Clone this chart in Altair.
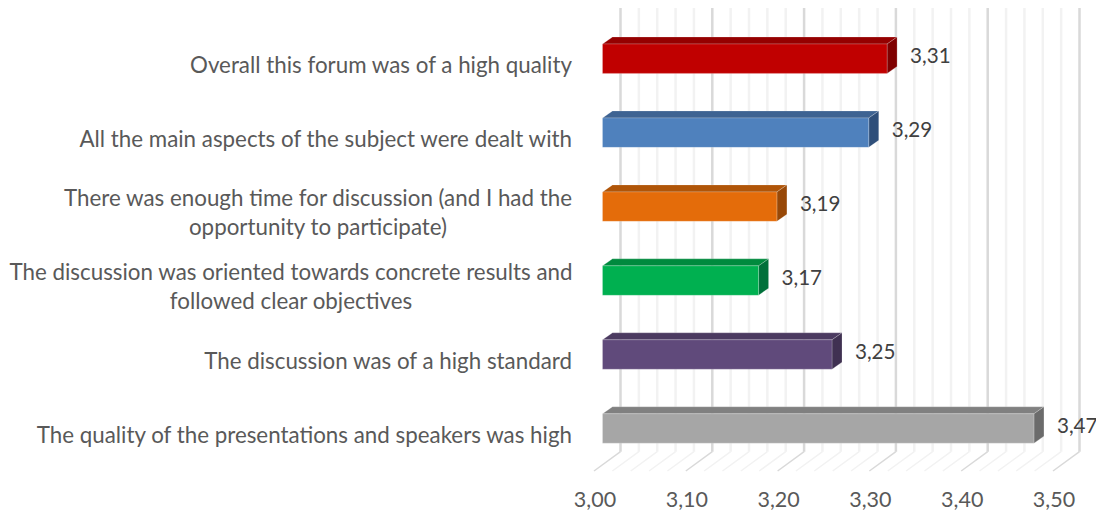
import altair as alt
import pandas as pd

# ---- data ----
label_lines = [
    ["Overall this forum was of a high quality"],
    ["All the main aspects of the subject were dealt with"],
    ["There was enough time for discussion (and I had the", "opportunity to participate)"],
    ["The discussion was oriented towards concrete results and", "followed clear objectives"],
    ["The discussion was of a high standard"],
    ["The quality of the presentations and speakers was high"],
]
values = [3.31, 3.29, 3.19, 3.17, 3.25, 3.47]
front_colors = ["#C00000", "#4F81BD", "#E46C0A", "#00B050", "#604A7B", "#A6A6A6"]
top_colors = ["#950000", "#3E6392", "#B05508", "#008A3E", "#4B3A60", "#808080"]
side_colors = ["#7F0000", "#2F4F7A", "#984807", "#00703A", "#403152", "#6B6B6B"]
major_ticks = [3.0, 3.1, 3.2, 3.3, 3.4, 3.5]
minor_ticks = [3.02, 3.04, 3.06, 3.08, 3.12, 3.14, 3.16, 3.18, 3.22, 3.24, 3.26, 3.28,
               3.32, 3.34, 3.36, 3.38, 3.42, 3.44, 3.46, 3.48]

# ---- layout ----
FONT = "Lato"
FS = 22.35
FS_NUM = 20.6
FS_TICK = 21.5
W, H = 1088, 478
PX_PER_UNIT = 918.0
SLOT = 73.95
X0_PX = 594.0 - 8              # 3.00 on the floor's front edge, in plot pixels
x_scale = alt.Scale(domain=[3 - X0_PX / PX_PER_UNIT, 3 + (W - X0_PX) / PX_PER_UNIT], nice=False, zero=False)
y_scale = alt.Scale(domain=[0, H / SLOT], nice=False, zero=False, reverse=True)

BAR_SHIFT = 8.5 / PX_PER_UNIT   # bars sit this far behind the floor's front edge
WALL_SHIFT = 26.5 / PX_PER_UNIT # back wall behind the floor's front edge
BAR_DX = 10.0 / PX_PER_UNIT
BAR_DY = 7.0 / SLOT
BAR_TOP = 36.0 / SLOT
BAR_H = 29.4 / SLOT
WALL_BOTTOM = 6.0
FLOOR_FRONT = 6.0 + 19.3 / SLOT

x_axis = alt.Axis(
    values=major_ticks,
    labelExpr="replace(format(datum.value,'.2f'),'.',',')",
    domain=False, ticks=False, grid=False, title=None,
    labelFont=FONT, labelFontSize=FS_TICK, labelColor="#595959", labelPadding=3, labelOffset=0.5,
    labelOverlap=False, labelFlush=False)

X = lambda f: alt.X(f, type="quantitative", scale=x_scale, axis=x_axis)
Y = lambda f: alt.Y(f, type="quantitative", scale=y_scale, axis=None)

# gridlines
grid = pd.DataFrame(
    [{"v": v, "kind": "major"} for v in major_ticks] + [{"v": v, "kind": "minor"} for v in minor_ticks]
)
grid["wx"] = grid.v + WALL_SHIFT
grid["fx"] = grid.v
grid["y0"] = 0.0
grid["y1"] = WALL_BOTTOM
grid["y2"] = FLOOR_FRONT


def grid_layers(kind, color, w_wall, w_floor):
    d = grid[grid.kind == kind]
    wall = alt.Chart(d).mark_rule(color=color, strokeWidth=w_wall).encode(
        x=X("wx"), y=Y("y0"), y2=alt.Y2("y1"))
    floor = alt.Chart(d).mark_rule(color=color, strokeWidth=w_floor).encode(
        x=X("wx"), x2=alt.X2("fx"), y=Y("y1"), y2=alt.Y2("y2"))
    return [wall, floor]


# bars
front_rows, top_rows, side_rows = [], [], []
for i, v in enumerate(values):
    x0 = 3 + BAR_SHIFT
    x1 = v + BAR_SHIFT
    yt = i + BAR_TOP
    yb = yt + BAR_H
    front_rows.append({"x0": x0, "x1": x1, "yt": yt, "yb": yb, "c": front_colors[i]})
    for x, a, b in [(x0, yt, yt), (x0 + BAR_DX, yt, yt - BAR_DY), (x1, yt, yt - BAR_DY), (x1 + BAR_DX, yt - BAR_DY, yt - BAR_DY)]:
        top_rows.append({"i": i, "x": x, "a": a, "b": b, "c": top_colors[i]})
    for x, a, b in [(x1, yt, yb), (x1 + BAR_DX, yt - BAR_DY, yb - BAR_DY)]:
        side_rows.append({"i": i, "x": x, "a": a, "b": b, "c": side_colors[i]})

edge = dict(stroke="white", strokeOpacity=0.2, strokeWidth=1)
front = alt.Chart(pd.DataFrame(front_rows)).mark_rect(**edge).encode(
    x=X("x0"), x2=alt.X2("x1"), y=Y("yt"), y2=alt.Y2("yb"), color=alt.Color("c:N", scale=None))
top = alt.Chart(pd.DataFrame(top_rows)).mark_area(**edge).encode(
    x=X("x"), y=Y("a"), y2=alt.Y2("b"), detail="i:N", color=alt.Color("c:N", scale=None))
side = alt.Chart(pd.DataFrame(side_rows)).mark_area(**edge).encode(
    x=X("x"), y=Y("a"), y2=alt.Y2("b"), detail="i:N", color=alt.Color("c:N", scale=None))

# value labels
val_df = pd.DataFrame({
    "x": [v + BAR_SHIFT + BAR_DX for v in values],
    "y": [i + 0.662 for i in range(len(values))],
    "t": [f"{v:.2f}".replace(".", ",") for v in values],
})
val_text = alt.Chart(val_df).mark_text(
    align="left", baseline="middle", dx=13, font=FONT, fontSize=FS_NUM, color="#404040"
).encode(x=X("x"), y=Y("y"), text="t:N")

# category labels
LABEL_RIGHT = 572 - 8
LINE_UP = 15.0 / SLOT
rows_single, rows_wrapped = [], []
for i, lines in enumerate(label_lines):
    c = i + 0.785
    if len(lines) == 1:
        rows_single.append({"y": c, "t": lines[0]})
    else:
        rows_wrapped.append({"y": c - LINE_UP, "t": lines})
single = alt.Chart(pd.DataFrame(rows_single)).mark_text(
    align="right", baseline="middle", font=FONT, fontSize=FS, color="#595959"
).encode(x=alt.value(LABEL_RIGHT), y=Y("y"), text="t:N")
wrapped = [
    alt.Chart(pd.DataFrame({"y": [r["y"]]})).mark_text(
        align="center", baseline="middle", font=FONT, fontSize=FS, color="#595959", lineHeight=29,
        text=r["t"],
    ).encode(x=alt.value(cx - 8), y=Y("y"))
    for r, cx in zip(rows_wrapped, [318.0, 291.0])
]

chart = alt.layer(
    *grid_layers("minor", "#f2f2f2", 2.5, 1.5),
    *grid_layers("major", "#d9d9d9", 2.5, 1.5),
    top, side, front,
    val_text, single, *wrapped,
).properties(
    width=W, height=H,
    autosize=alt.AutoSizeParams(type="none"),
    padding={"left": 0, "top": 0, "right": 0, "bottom": 27},
).configure_view(stroke=None)

chart.save("out.html", embed_options={"renderer": "svg", "actions": False})
